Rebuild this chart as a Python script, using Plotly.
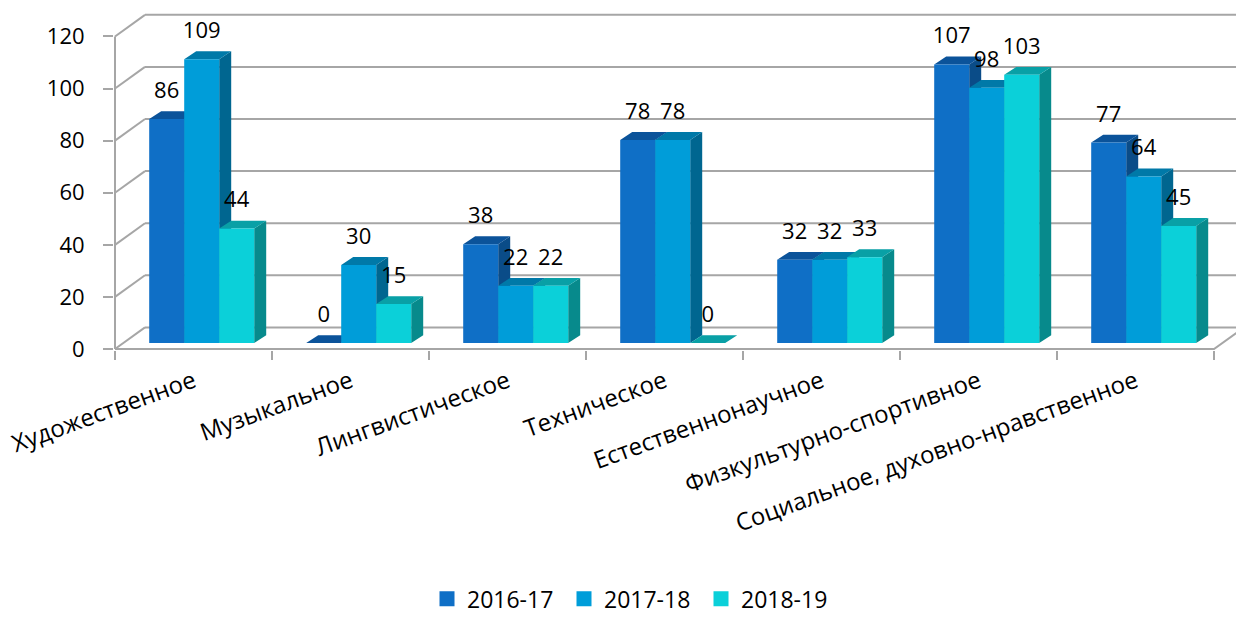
import plotly.graph_objects as go

# ---------------- data ----------------
categories = [
    "Художественное",
    "Музыкальное",
    "Лингвистическое",
    "Техническое",
    "Естественнонаучное",
    "Физкультурно-спортивное",
    "Социальное, духовно-нравственное",
]
series_names = ["2016-17", "2017-18", "2018-19"]
v_2016_17 = [86, 0, 38, 78, 32, 107, 77]
v_2017_18 = [109, 30, 22, 78, 32, 98, 64]
v_2018_19 = [44, 15, 22, 0, 33, 103, 45]
y_ticks = [0, 20, 40, 60, 80, 100, 120]

series_values = [v_2016_17, v_2017_18, v_2018_19]

# ---------------- styles ----------------
FRONT = ["#0F6FC6", "#009DD9", "#0BD0D9"]
TOP = ["#0B539A", "#0079A8", "#09A0A6"]
SIDE = ["#0A4C88", "#006690", "#078A8C"]
GRID = "#A6A6A6"
FONT = "Open Sans"
FS_NUM = 22
FS_CAT = 24
FS_LEG = 23

W, H = 1236, 621
PL, FA, PR = 114, 115, 1236            # horizontal pixel frame
PB, Z, PT = 356, 355, 5                # vertical pixel frame
CAT_PX = 157.0                         # pixels per category
K = 318.0 / 120.0                      # pixels per value unit


def ux(px):
    return px / CAT_PX


def uy(px):
    return px / K


n = len(categories)
X0 = -0.5
XR = [X0 - ux(FA - PL), X0 + ux(PR - FA)]
YR = [-uy(PB - Z), uy(Z - PT)]

BACK_DX, BACK_DY = ux(30), uy(22)     # back wall offset
BAR_DX, BAR_BASE = ux(8.2), uy(6)     # bar plane offset
DEP_DX, DEP_DY = ux(12), uy(8)        # bar depth
BW = ux(35)                           # bar width
LABEL_UP = uy(27)

fig = go.Figure()

# walls / floor
gx, gy = [], []
for v in y_ticks:
    gx += [X0 + BACK_DX, X0 + n + BACK_DX, None, X0, X0 + BACK_DX, None]
    gy += [v + BACK_DY, v + BACK_DY, None, v, v + BACK_DY, None]
gx += [X0, X0 + n, X0 + n + BACK_DX, None, X0, X0]
gy += [0, 0, BACK_DY, None, 0, y_ticks[-1]]
fig.add_trace(go.Scatter(x=gx, y=gy, mode="lines", line=dict(color=GRID, width=2),
                         hoverinfo="skip", showlegend=False, xaxis="x", yaxis="y"))


def bar_left(i, s):
    return i + BAR_DX - 1.5 * BW + s * BW


# side faces
for s, vals in enumerate(series_values):
    xs, ys = [], []
    for i, v in enumerate(vals):
        x1 = bar_left(i, s) + BW
        b = BAR_BASE
        xs += [x1, x1, x1 + DEP_DX, x1 + DEP_DX, x1, None]
        ys += [b, b + v, b + v + DEP_DY, b + DEP_DY, b, None]
    fig.add_trace(go.Scatter(x=xs, y=ys, mode="lines", fill="toself", fillcolor=SIDE[s],
                             line=dict(width=0, color=SIDE[s]), hoverinfo="skip",
                             showlegend=False, xaxis="x", yaxis="y"))

# top faces
for s, vals in enumerate(series_values):
    xs, ys = [], []
    for i, v in enumerate(vals):
        x0 = bar_left(i, s)
        x1 = x0 + BW
        t = BAR_BASE + v
        xs += [x0, x1, x1 + DEP_DX, x0 + DEP_DX, x0, None]
        ys += [t, t, t + DEP_DY, t + DEP_DY, t, None]
    fig.add_trace(go.Scatter(x=xs, y=ys, mode="lines", fill="toself", fillcolor=TOP[s],
                             line=dict(width=0, color=TOP[s]), hoverinfo="skip",
                             showlegend=False, xaxis="x", yaxis="y"))

# front faces (bars) on overlay axes so they sit above the side / top faces
for s, vals in enumerate(series_values):
    fig.add_trace(go.Bar(
        x=[bar_left(i, s) + BW / 2 for i in range(n)], y=vals, base=BAR_BASE, width=BW,
        marker=dict(color=FRONT[s], line=dict(width=0)), name=series_names[s],
        showlegend=False, hoverinfo="skip", xaxis="x2", yaxis="y2"))

# legend entries (square swatches)
for s in range(len(series_names)):
    fig.add_trace(go.Scatter(x=[None], y=[None], mode="markers", name=series_names[s],
                             marker=dict(symbol="square", size=15, color=FRONT[s]),
                             showlegend=True, hoverinfo="skip", xaxis="x2", yaxis="y2"))

# value labels
lx, ly, lt = [], [], []
for s, vals in enumerate(series_values):
    for i, v in enumerate(vals):
        lx.append(bar_left(i, s) + BW / 2)
        ly.append(BAR_BASE + v + LABEL_UP)
        lt.append(str(v))
fig.add_trace(go.Scatter(x=lx, y=ly, text=lt, mode="text", textposition="middle center",
                         textfont=dict(family=FONT, size=FS_NUM, color="#000000"),
                         hoverinfo="skip", showlegend=False, cliponaxis=False,
                         xaxis="x2", yaxis="y2"))

fig.update_layout(
    width=W, height=H,
    margin=dict(l=PL, r=W - PR, t=PT, b=H - PB, pad=0),
    paper_bgcolor="white", plot_bgcolor="white",
    font=dict(family=FONT, size=FS_NUM, color="#000000"),
    barmode="overlay",
    xaxis=dict(range=XR, tickmode="array", tickvals=list(range(n)), ticktext=categories,
               tickangle=-20, ticks="", showgrid=False, zeroline=False, showline=False,
               ticklabelstandoff=12,
               tickfont=dict(family=FONT, size=FS_CAT, color="#000000"),
               minor=dict(tickmode="array", tickvals=[X0 + k for k in range(n + 1)],
                          ticks="outside", ticklen=9, tickwidth=2, tickcolor=GRID,
                          showgrid=False)),
    yaxis=dict(range=YR, tickmode="array", tickvals=y_ticks, ticks="outside", ticklen=10,
               tickwidth=2, tickcolor=GRID, showgrid=False, zeroline=False, showline=False,
               ticklabelstandoff=14,
               tickfont=dict(family=FONT, size=FS_NUM, color="#000000")),
    xaxis2=dict(range=XR, overlaying="x", visible=False),
    yaxis2=dict(range=YR, overlaying="y", visible=False),
    legend=dict(orientation="h", x=(427 - PL) / (PR - PL), xanchor="left",
                y=-(609 - PB) / (PB - PT), yanchor="middle",
                entrywidth=92, entrywidthmode="pixels",
                font=dict(family=FONT, size=FS_LEG, color="#000000"),
                bgcolor="rgba(0,0,0,0)"),
    showlegend=True,
)

fig.write_html("out.html", config={"displayModeBar": False},
               post_script="document.body.style.margin='0';")
